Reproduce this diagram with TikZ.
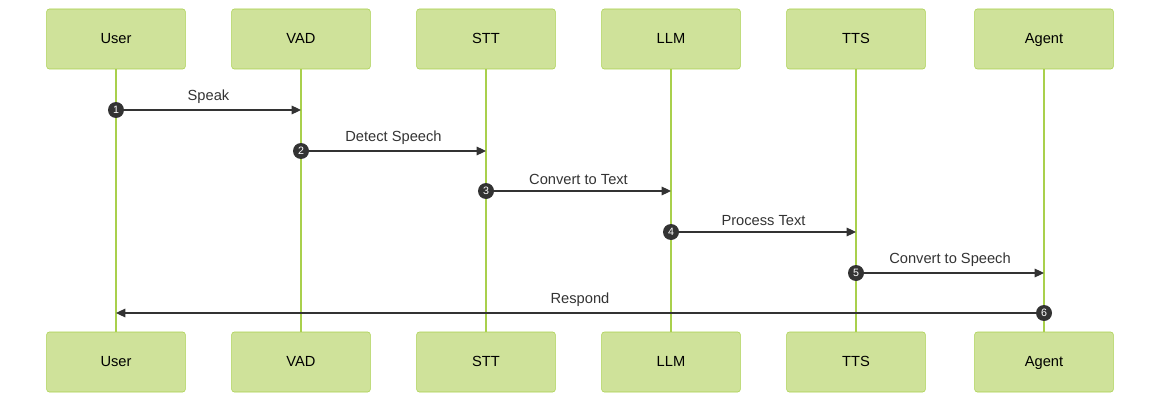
\documentclass[tikz,border=0pt]{standalone}
\usepackage{fontspec}
\setmainfont{Liberation Sans}
\usetikzlibrary{arrows.meta}

\definecolor{boxfill}{HTML}{CFE29A}
\definecolor{boxline}{HTML}{A9D04C}
\definecolor{msgline}{HTML}{333333}

\tikzset{
  actor/.style={draw=boxline, fill=boxfill, rounded corners=2pt,
    minimum width=104pt, minimum height=45pt, inner sep=0pt,
    text height=1.5ex, text depth=.25ex,
    font=\fontsize{11}{13}\selectfont},
  lifeline/.style={boxline, line width=1.2pt},
  msg/.style={msgline, line width=0.8pt, -{Triangle[length=7pt,width=6.5pt]}},
  num/.style={circle, fill=msgline, text=white, inner sep=0pt,
    minimum size=12pt, font=\fontsize{8}{8}\selectfont},
  lbl/.style={above=1pt, font=\fontsize{11}{13}\selectfont, text=msgline}
}

\begin{document}
\begin{tikzpicture}[x=0.75pt, y=-0.75pt]
\useasboundingbox (0,0) rectangle (1160,403);

% participants, top and bottom, with their lifelines
\foreach \x/\name in {116/User,301/VAD,486/STT,671/LLM,856/TTS,1044/Agent} {
  \node[actor] (top-\name) at (\x,39) {\name};
  \node[actor] (bot-\name) at (\x,362) {\name};
  \draw[lifeline] (top-\name) -- (bot-\name);
}

% numbered messages
\foreach \i/\from/\to/\y/\txt in {1/User/VAD/110/Speak,
    2/VAD/STT/151/Detect Speech,
    3/STT/LLM/191/Convert to Text,
    4/LLM/TTS/232/Process Text,
    5/TTS/Agent/273/Convert to Speech,
    6/Agent/User/313/Respond} {
  \coordinate (src-\i) at (top-\from |- {(0,\y)});
  \coordinate (tip-\i) at (top-\to |- src-\i);
  \draw[msg] (src-\i) -- (tip-\i) node[midway, lbl] {\txt};
  \node[num] (num-\i) at (src-\i) {\i};
}
\end{tikzpicture}
\end{document}
